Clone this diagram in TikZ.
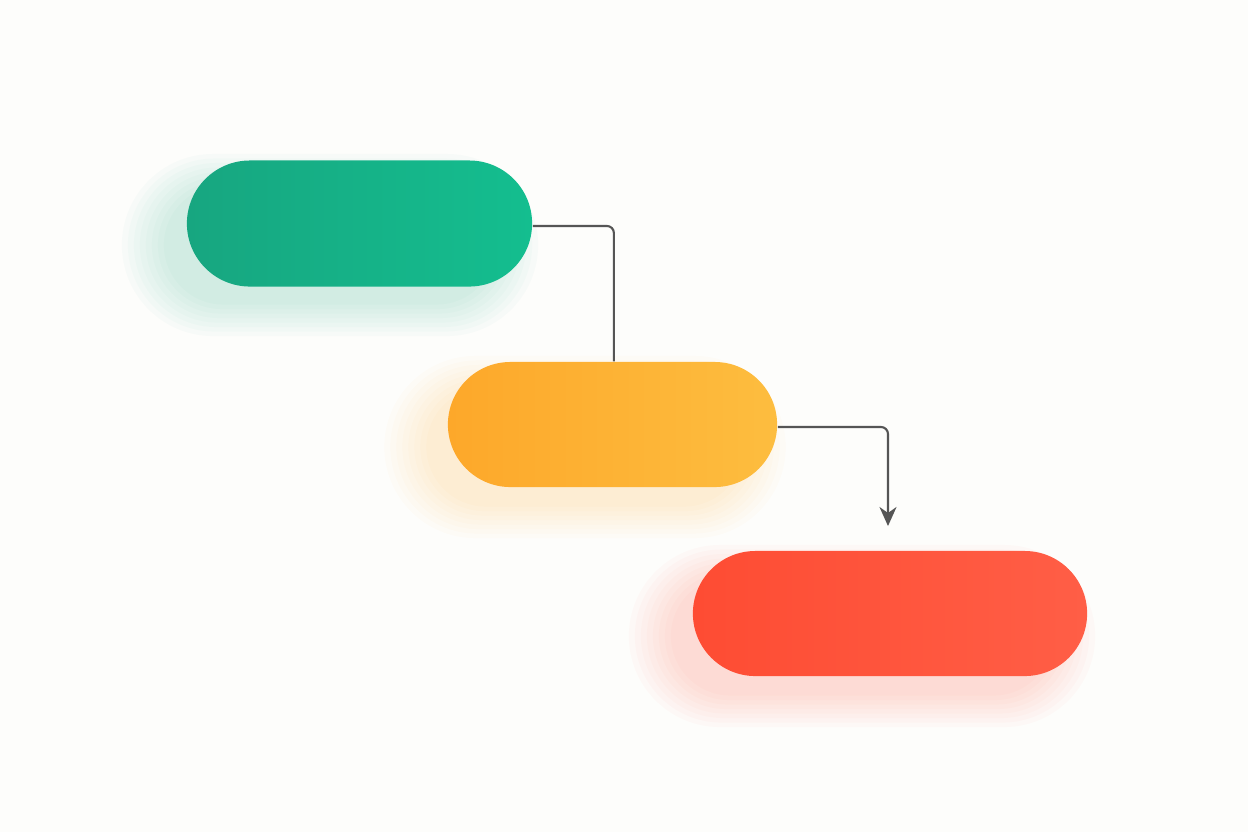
\documentclass[tikz,border=0pt]{standalone}
\usetikzlibrary{shapes.misc,arrows.meta}
\definecolor{paper}{HTML}{FDFDFB}
\definecolor{greenL}{HTML}{17A680}
\definecolor{greenR}{HTML}{14BE8F}
\definecolor{orangeL}{HTML}{FDA82A}
\definecolor{orangeR}{HTML}{FDBD3F}
\definecolor{redL}{HTML}{FE4C33}
\definecolor{redR}{HTML}{FF5E46}
\definecolor{linkgray}{HTML}{555555}
\begin{document}
\begin{tikzpicture}[x=0.01cm,y=-0.01cm,
    pill/.style={rounded rectangle,minimum height=1.26cm,inner sep=0pt,draw=none},
    glow/.style={rounded rectangle,minimum height=1.26cm,inner sep=0pt,draw=none,fill=#1,fill opacity=0.022},
    link/.style={draw=linkgray,line width=0.6pt,rounded corners=2pt}]
\fill[paper] (0,0) rectangle (1248,832);
% soft glows
\foreach \s in {6,12,...,48}{
    \node[glow=greenL,minimum width=3.2cm+\s*0.02cm,minimum height=1.1cm+\s*0.015cm] at (330,245) {};
    \node[glow=orangeL,minimum width=3.05cm+\s*0.02cm,minimum height=1.1cm+\s*0.015cm] at (585,447) {};
    \node[glow=redL,minimum width=3.7cm+\s*0.02cm,minimum height=1.1cm+\s*0.015cm] at (862,636) {};
}
\node[pill,left color=greenL,right color=greenR,minimum width=3.45cm] (green) at (359.5,223.5) {};
\node[pill,left color=orangeL,right color=orangeR,minimum width=3.29cm,minimum height=1.25cm] (orange) at (612.5,424.5) {};
\node[pill,left color=redL,right color=redR,minimum width=3.94cm,minimum height=1.25cm] (red) at (890,613.5) {};
\coordinate (tip) at (888,526);
\draw[link] ([yshift=-0.7pt]green.east) -| ([xshift=0.4pt]orange.north);
\draw[link,-{Stealth[length=0.19cm,width=0.17cm,inset=0.06cm]}] ([yshift=-0.7pt]orange.east) -| (tip);
\end{tikzpicture}
\end{document}
